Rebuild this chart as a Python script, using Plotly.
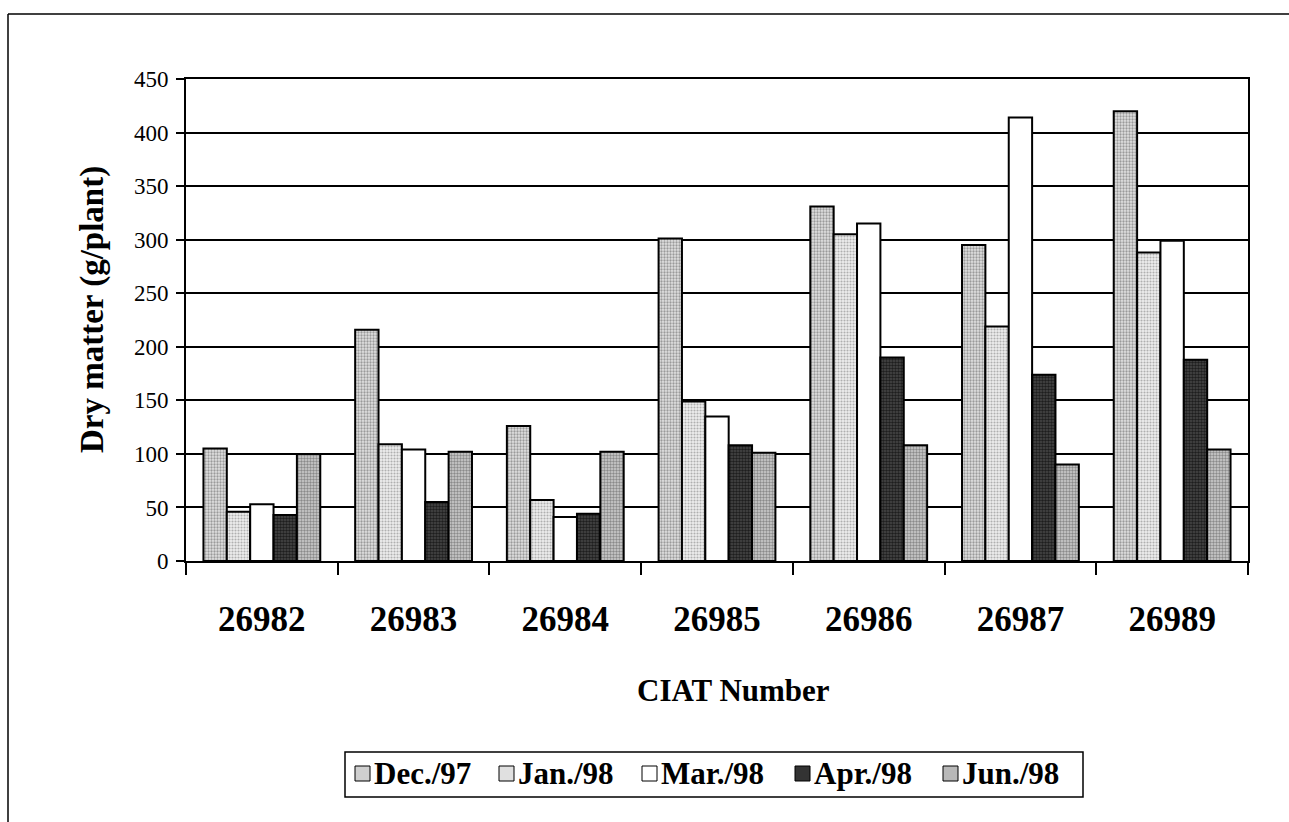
import plotly.graph_objects as go

# CIAT accession numbers on the x axis
ciat_numbers = ["26982", "26983", "26984", "26985", "26986", "26987", "26989"]

# Dry matter (g/plant) at each harvest date
dec_97 = [105, 216, 126, 301, 331, 295, 420]
jan_98 = [46, 109, 57, 149, 305, 219, 288]
mar_98 = [53, 104, 41, 135, 315, 414, 299]
apr_98 = [43, 55, 44, 108, 190, 174, 188]
jun_98 = [100, 102, 102, 101, 108, 90, 104]

series_names = ["Dec./97", "Jan./98", "Mar./98", "Apr./98", "Jun./98"]
y_ticks = [0, 50, 100, 150, 200, 250, 300, 350, 400, 450]

SERIF = "Liberation Serif"
W, H = 1289, 822
M_L, M_R, M_T, M_B = 186, 41, 79, 261
PW, PH = W - M_L - M_R, H - M_T - M_B


def px_x(px):
    """pixel column -> paper x"""
    return (px - M_L) / PW


def px_y(py):
    """pixel row -> paper y"""
    return (H - M_B - py) / PH


# fill style per harvest: (dot colour, background colour, solidity, legend swatch)
styles = [
    ("#9a9a9a", "#e2e2e2", 0.45, "#cfcfcf"),
    ("#b0b0b0", "#eeeeee", 0.40, "#e0e0e0"),
    ("#ffffff", "#ffffff", 0.0, "#ffffff"),
    ("#1e1e1e", "#4a4a4a", 0.55, "#333333"),
    ("#8a8a8a", "#d0d0d0", 0.50, "#b8b8b8"),
]

fig = go.Figure()
for name, vals, (fg, bg, sol, _) in zip(series_names,
                                        [dec_97, jan_98, mar_98, apr_98, jun_98],
                                        styles):
    marker = dict(color=bg, line=dict(color="black", width=2))
    if sol > 0:
        marker["pattern"] = dict(shape=".", fgcolor=fg, bgcolor=bg,
                                 size=3, solidity=sol, fillmode="replace")
    fig.add_trace(go.Bar(name=name, x=ciat_numbers, y=vals, marker=marker,
                         showlegend=False))

fig.update_layout(
    width=W, height=H,
    margin=dict(l=M_L, r=M_R, t=M_T, b=M_B),
    paper_bgcolor="white", plot_bgcolor="white",
    barmode="group", bargap=0.23, bargroupgap=0,
    font=dict(family=SERIF, color="black"),
)

fig.update_xaxes(
    type="category", showline=True, linecolor="black", linewidth=2,
    mirror=True, ticks="outside", tickson="boundaries", ticklen=12,
    tickwidth=2, tickcolor="black", ticklabelstandoff=26,
    tickfont=dict(family=SERIF, size=35, color="black", weight="bold"),
    showgrid=False,
)
fig.update_yaxes(
    range=[0, 450], tickvals=y_ticks, showline=True, linecolor="black",
    linewidth=2, mirror=True, ticks="outside", ticklen=8, tickwidth=2,
    tickcolor="black", ticklabelstandoff=3,
    tickfont=dict(family=SERIF, size=23, color="black"),
    showgrid=True, gridcolor="black", gridwidth=2, zeroline=False,
)

# axis titles
fig.add_annotation(
    text="Dry matter (g/plant)", xref="paper", yref="paper",
    x=px_x(92), y=px_y(310), xanchor="center", yanchor="middle",
    textangle=-90, showarrow=False,
    font=dict(family=SERIF, size=33, color="black", weight="bold"),
)
fig.add_annotation(
    text="CIAT Number", xref="paper", yref="paper",
    x=px_x(733), y=px_y(690), xanchor="center", yanchor="middle",
    showarrow=False,
    font=dict(family=SERIF, size=31, color="black", weight="bold"),
)

# legend box below the axis title
fig.add_shape(
    type="rect", xref="paper", yref="paper",
    x0=px_x(345), x1=px_x(1083), y0=px_y(797), y1=px_y(752),
    line=dict(color="black", width=1.5), fillcolor="white",
)
swatch_left = [355, 499, 642, 795, 943]
for name, sx, (_, _, _, swatch) in zip(series_names, swatch_left, styles):
    fig.add_shape(
        type="rect", xref="paper", yref="paper",
        x0=px_x(sx), x1=px_x(sx + 15), y0=px_y(781), y1=px_y(766),
        line=dict(color="black", width=1), fillcolor=swatch,
    )
    fig.add_annotation(
        text=name, xref="paper", yref="paper",
        x=px_x(sx + 17), y=px_y(773), xanchor="left", yanchor="middle",
        showarrow=False,
        font=dict(family=SERIF, size=31, color="black", weight="bold"),
    )

# outer chart frame: left and top edges
frame = dict(color="black", width=1.5)
fig.add_shape(type="line", xref="paper", yref="paper",
              x0=px_x(8), x1=px_x(8), y0=px_y(830), y1=px_y(14),
              line=frame, layer="below")
fig.add_shape(type="line", xref="paper", yref="paper",
              x0=px_x(8), x1=px_x(1300), y0=px_y(14), y1=px_y(14),
              line=frame, layer="below")

fig.write_html("out.html")
